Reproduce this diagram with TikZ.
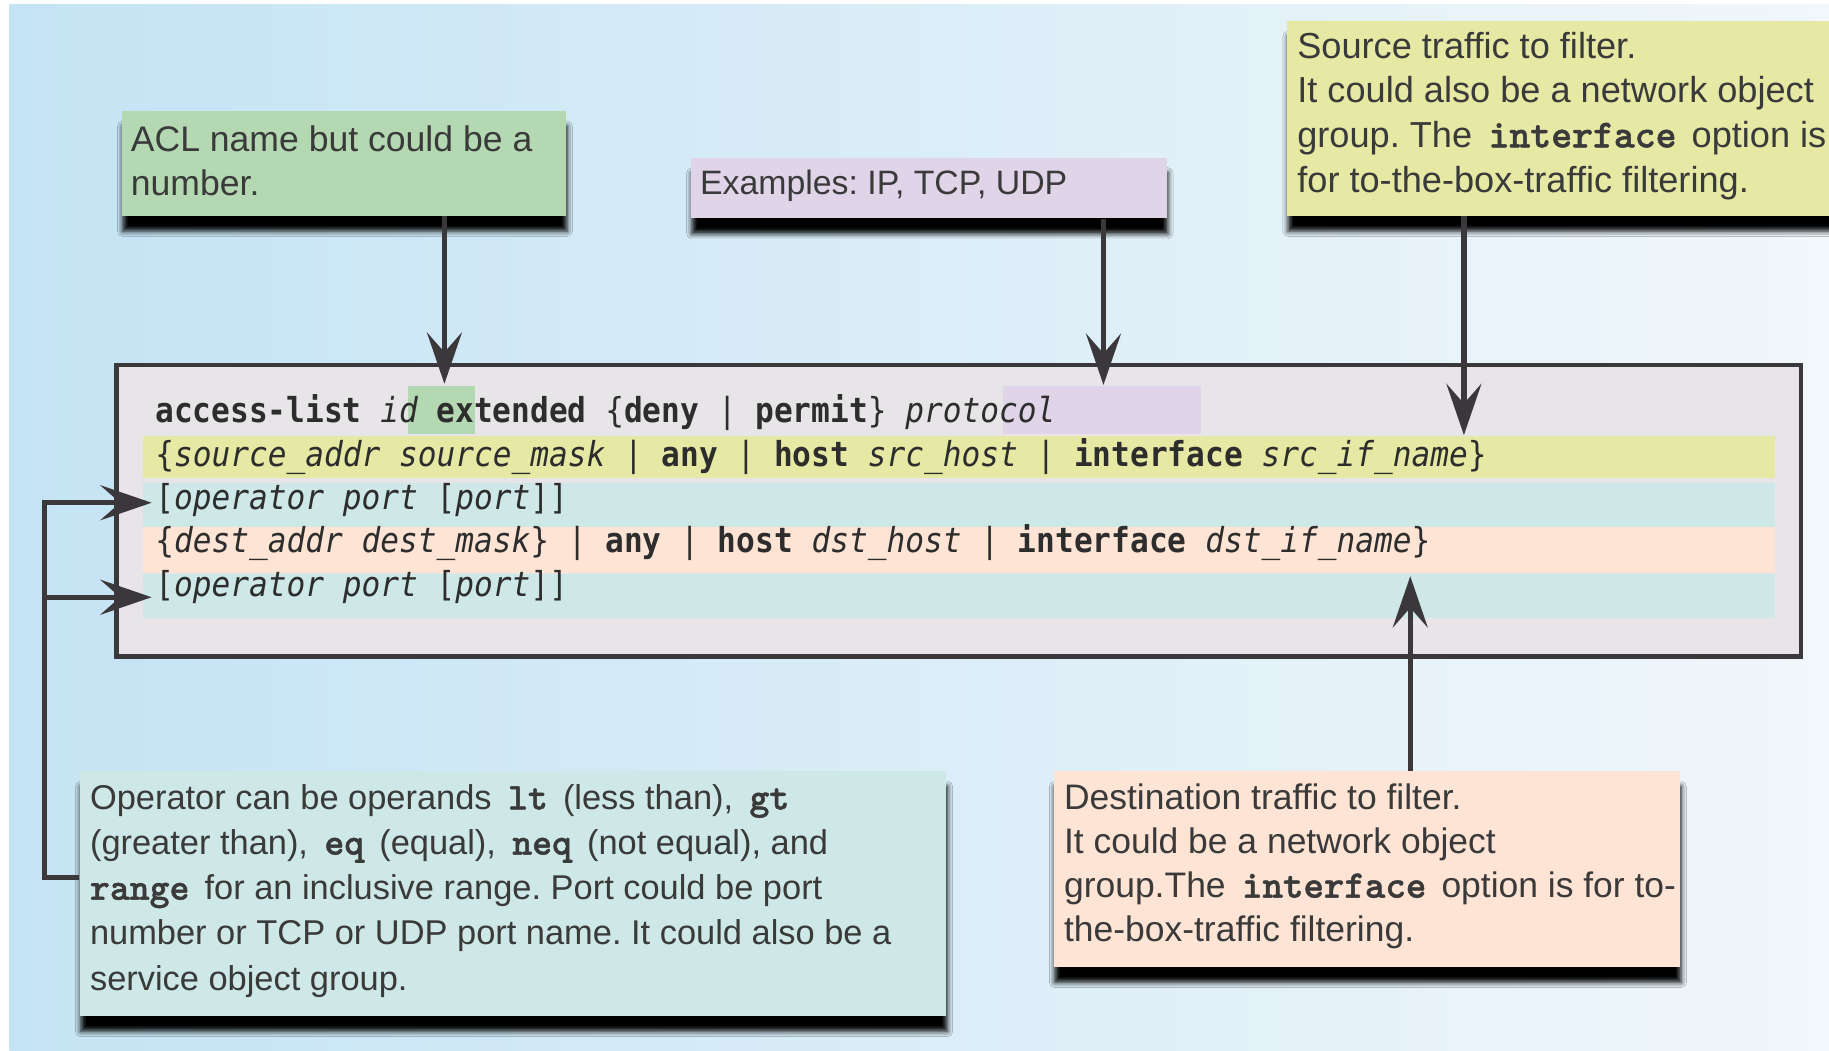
\documentclass[tikz,border=0pt]{standalone}
\usepackage{fontspec}
\setmainfont{Liberation Sans}
\newfontfamily\codefont[FakeStretch=0.905]{DejaVu Sans Mono}
\newfontfamily\cmdfont{lmmonolt10-bold.otf}[Scale=1.1, FakeBold=1.2]
\usetikzlibrary{arrows.meta,shadows.blur}

\definecolor{bgL}{RGB}{196,227,244}
\definecolor{bgR}{RGB}{241,247,251}
\definecolor{ink}{RGB}{58,56,58}
\definecolor{txt}{RGB}{58,58,58}
\definecolor{codetxt}{RGB}{45,45,45}
\definecolor{aclgreen}{RGB}{180,217,178}
\definecolor{protopurple}{RGB}{223,212,232}
\definecolor{srcyellow}{RGB}{229,233,163}
\definecolor{portteal}{RGB}{205,232,230}
\definecolor{dstpeach}{RGB}{253,228,212}
\definecolor{codegray}{RGB}{231,229,231}

% markup for the command syntax
\newcommand{\kw}[1]{{\bfseries #1}}
\newcommand{\ph}[1]{{\itshape #1}}
% bold command words inside the notes
\newcommand{\cw}[1]{\hspace{14pt}{\cmdfont #1}\hspace{13pt}}
\newcommand{\cwfirst}[1]{{\cmdfont #1}\hspace{13pt}}
\frenchspacing

\begin{document}
\begin{tikzpicture}[x=1pt,y=-1pt,
  callout/.style={inner sep=0pt, anchor=north west,
    blur shadow={shadow xshift=1pt, shadow yshift=-13pt,
      shadow blur radius=4.5pt, shadow opacity=100}},
  notetext/.style={inner sep=0pt, anchor=west, align=left, text=txt},
  codeline/.style={inner sep=0pt, anchor=base west, text=codetxt,
    font=\codefont\fontsize{29.5}{34}\selectfont},
  arr/.style={draw=ink, line width=4.5pt, line join=miter,
    -{Stealth[length=44pt,width=30pt,inset=17pt]}}
]
\useasboundingbox (0,0) rectangle (1568,901);

% backdrop
\fill[white] (0,0) rectangle (1568,901);
\shade[left color=bgL, right color=bgR] (8,4) rectangle (1568,901);

% command syntax panel
\node[draw=ink, line width=4pt, fill=codegray, inner sep=0pt,
  anchor=north west, minimum width=1444pt, minimum height=250pt]
  (code) at (98,311) {};

% colour bands behind the syntax lines
\fill[srcyellow] (123,374) rectangle (1522,410);
\fill[portteal]  (123,414) rectangle (1522,452);
\fill[dstpeach]  (123,452) rectangle (1522,491);
\fill[portteal]  (123,492) rectangle (1522,530);
\fill[aclgreen]    (350,331) rectangle (407,372);
\fill[protopurple] (860,331) rectangle (1030,372);

\node[codeline] (l1) at (133,362.5)
  {\kw{access-list} \ph{id} \kw{extended} \{\kw{deny} | \kw{permit}\} \ph{protocol}};
\node[codeline] (l2) at (133,400)
  {\{\ph{source\_addr source\_mask} | \kw{any} | \kw{host} \ph{src\_host} | \kw{interface} \ph{src\_if\_name}\}};
\node[codeline] (l3) at (133,437) {[\ph{operator port} [\ph{port}]]};
\node[codeline] (l4) at (133,474)
  {\{\ph{dest\_addr dest\_mask}\} | \kw{any} | \kw{host} \ph{dst\_host} | \kw{interface} \ph{dst\_if\_name}\}};
\node[codeline] (l5) at (133,511.5) {[\ph{operator port} [\ph{port}]]};

% explanatory notes
\node[callout, fill=aclgreen, minimum width=381pt, minimum height=90pt] (ng) at (104,95) {};
\node[notetext, font=\fontsize{30.5}{37.5}\selectfont] (ngt) at ([shift={(8,-2.5)}]ng.west)
  {ACL name but could be a\\number.};

\node[callout, fill=protopurple, minimum width=408pt, minimum height=52pt] (np) at (592,135) {};
\node[notetext, font=\fontsize{29}{36}\selectfont] (npt) at ([shift={(8,-2)}]np.west)
  {Examples: IP, TCP, UDP};

\node[callout, fill=srcyellow, minimum width=520pt, minimum height=167pt] (ny) at (1103,18) {};
\node[notetext, font=\fontsize{31}{38.3}\selectfont] (nyt) at ([shift={(9,-2.5)}]ny.west)
  {Source traffic to filter.\\
   It could also be a network object\\
   group. The\cw{interface}option is\\
   for to-the-box-traffic filtering.};

\node[callout, fill=portteal, minimum width=743pt, minimum height=210pt] (nt) at (68,661) {};
\node[notetext, font=\fontsize{29.5}{38.7}\selectfont] (ntt) at ([shift={(9,-2.5)}]nt.west)
  {Operator can be operands\cw{lt}(less than),\cw{gt}\\
   (greater than),\cw{eq}(equal),\cw{neq}(not equal), and\\
   \cwfirst{range}for an inclusive range. Port could be port\\
   number or TCP or UDP port name. It could also be a\\
   service object group.};

\node[callout, fill=dstpeach, minimum width=537pt, minimum height=168pt] (nd) at (903,661) {};
\node[notetext, font=\fontsize{30.4}{38}\selectfont] (ndt) at ([shift={(9,-2.5)}]nd.west)
  {Destination traffic to filter.\\
   It could be a network object\\
   group.The\cw{interface}option is for to-\\
   the-box-traffic filtering.};

% arrow tips on the syntax panel
\coordinate (tipid)    at (381,329);
\coordinate (tipproto) at (946,330);
\coordinate (tipsrc)   at (1255,373);
\coordinate (tipdst)   at (1209,494);
\coordinate (tipport1) at (130,431);
\coordinate (tipport2) at (130,512);
\coordinate (rail)     at (38,752);

\draw[arr] (tipid |- ng.south) -- (tipid);
\draw[arr] (tipproto |- np.south) -- (tipproto);
\draw[arr] (tipsrc |- ny.south) -- (tipsrc);
\draw[arr] (tipdst |- nd.north) -- (tipdst);
\draw[arr] (rail -| nt.west) -- (rail) -- (rail |- tipport1) -- (tipport1);
\draw[arr] (rail |- tipport2) -- (tipport2);
\end{tikzpicture}
\end{document}
